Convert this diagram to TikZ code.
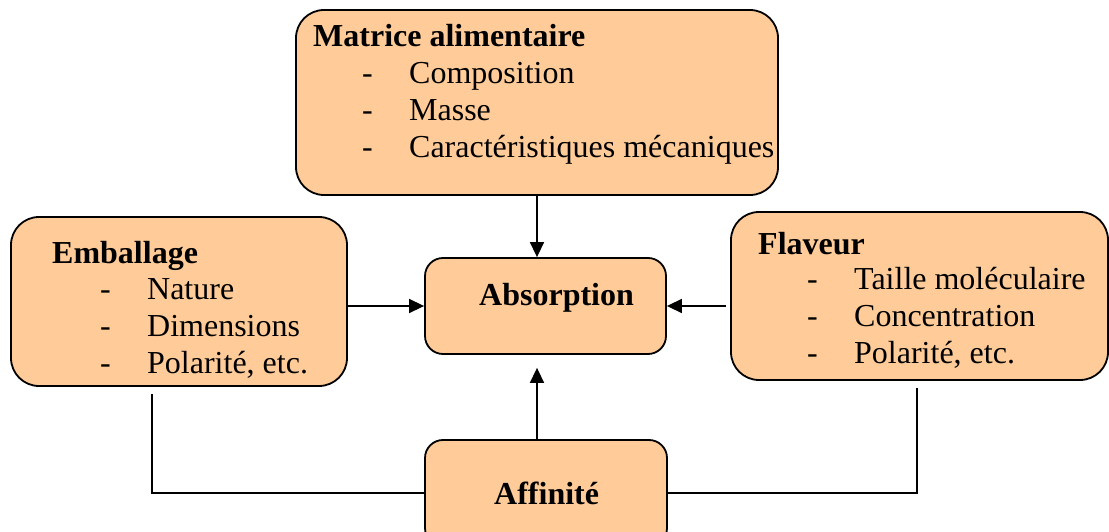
\documentclass[tikz,border=0pt]{standalone}
\usepackage{fontspec}
\setmainfont{Liberation Serif}
\usetikzlibrary{arrows.meta}
\definecolor{peach}{RGB}{255,204,153}
\newcommand{\tiret}{\makebox[47pt][l]{-}}
\tikzset{
    box/.style={draw, line width=1.8pt, fill=peach},
    txt/.style={anchor=base west, inner sep=0pt, font=\fontsize{32pt}{37pt}\selectfont},
    head/.style={txt, font=\fontsize{32pt}{37pt}\selectfont\bfseries},
    link/.style={line width=1.5pt},
    arr/.style={link, -{Triangle[length=15pt,width=14pt]}}
}
\begin{document}
\begin{tikzpicture}[x=1pt, y=-1pt]
        \useasboundingbox (0, 0) rectangle (1109, 532);
        % boxes
        \node[box, rounded corners=28pt, minimum width=482pt, minimum height=185pt] (matrice) at (537, 102.5) {};
        \node[box, rounded corners=28pt, minimum width=336pt, minimum height=169pt] (emballage) at (179, 301.5) {};
        \node[box, rounded corners=18pt, minimum width=241pt, minimum height=96pt] (absorption) at (545.5, 306) {};
        \node[box, rounded corners=28pt, minimum width=377pt, minimum height=168pt] (flaveur) at (919.5, 296) {};
        \node[box, rounded corners=18pt, minimum width=242pt, minimum height=106pt] (affinite) at (546, 493) {};
        % texts
        \node[head] (m0) at (313, 47) {Matrice alimentaire};
        \node[txt] (m1) at (362, 84) {\tiret Composition};
        \node[txt] (m2) at (362, 121) {\tiret Masse};
        \node[txt] (m3) at (362, 158) {\tiret Caractéristiques mécaniques};
        \node[head] (e0) at (52, 263) {Emballage};
        \node[txt] (e1) at (100, 299) {\tiret Nature};
        \node[txt] (e2) at (100, 336) {\tiret Dimensions};
        \node[txt] (e3) at (100, 373) {\tiret Polarité, etc.};
        \node[head] (f0) at (758, 254) {Flaveur};
        \node[txt] (f1) at (807, 289) {\tiret Taille moléculaire};
        \node[txt] (f2) at (807, 326) {\tiret Concentration};
        \node[txt] (f3) at (807, 363) {\tiret Polarité, etc.};
        \node[head] (a0) at (479, 305) {Absorption};
        \node[head] (g0) at (494, 504) {Affinité};
        % connectors
        \coordinate (tip) at ([yshift=-13pt]absorption.south);
        \draw[arr] (matrice.south) -- (matrice.south |- absorption.north);
        \draw[arr] (emballage.east |- absorption.west) -- (absorption.west);
        \draw[arr] ([xshift=-4pt]flaveur.west |- absorption.east) -- (absorption.east);
        \draw[arr] (affinite.north -| matrice.south) -- (tip -| matrice.south);
        \draw[link] ([xshift=-27pt, yshift=-7pt]emballage.south) |- (affinite.west);
        \draw[link] ([xshift=-2.5pt, yshift=-7pt]flaveur.south) |- (affinite.east);
    \end{tikzpicture}
\end{document}
